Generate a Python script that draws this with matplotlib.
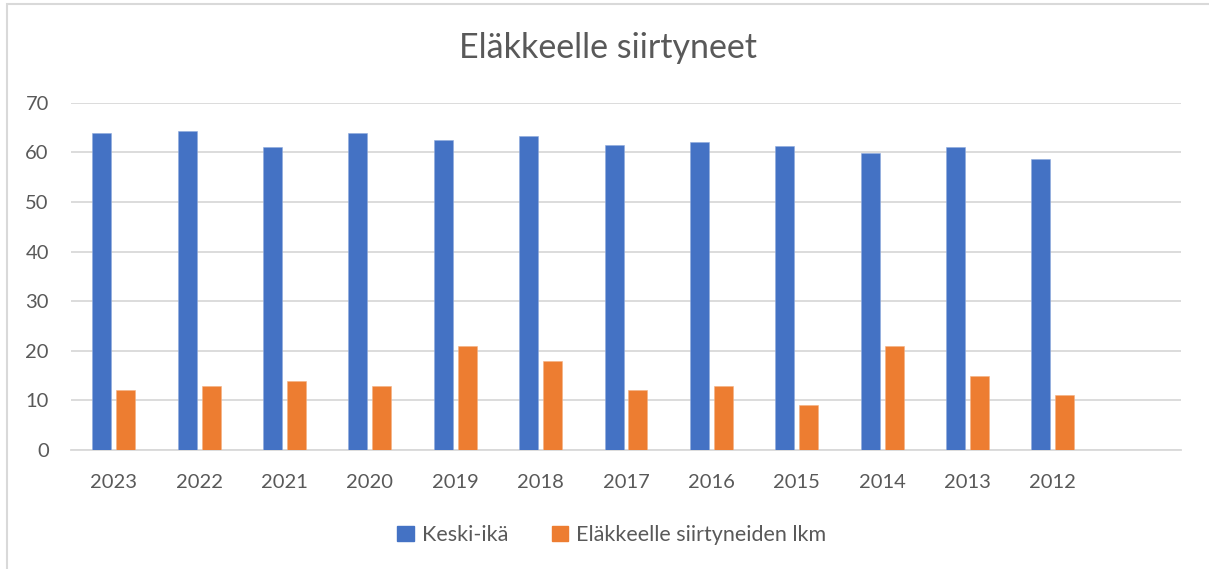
import matplotlib
matplotlib.use("Agg")
import matplotlib.pyplot as plt
from matplotlib.patches import Rectangle, Patch
import numpy as np

years = ["2023", "2022", "2021", "2020", "2019", "2018", "2017", "2016", "2015", "2014", "2013", "2012"]
keski_ika = [63.8, 64.3, 61.1, 63.8, 62.5, 63.2, 61.5, 62.1, 61.3, 59.9, 61.0, 58.6]
lkm = [12, 13, 14, 13, 21, 18, 12, 13, 9, 21, 15, 11]
yticks = [0, 10, 20, 30, 40, 50, 60, 70]

BLUE = "#4472C4"
ORANGE = "#ED7D31"
TXT = "#595959"
GRID = "#D9D9D9"
FONT = ["Lato", "DejaVu Sans"]

plt.rcParams["font.family"] = FONT

W, H = 1209, 569
fig = plt.figure(figsize=(W / 100, H / 100), dpi=100)

# chart border (left/top visible)
fig.patches.append(Rectangle((7 / W, -0.1), 1.2, (569 - 4) / H + 0.1, transform=fig.transFigure,
                             fill=False, edgecolor=GRID, linewidth=1.5))

ax = fig.add_axes([71 / W, 1 - 450 / H, (1181 - 71) / W, (450 - 102.7) / H])
n_slots = 13
x = np.arange(len(years))
bw = 0.2225
off = 0.1405
ax.bar(x - off, keski_ika, bw, color=BLUE, edgecolor="#8FAADC", linewidth=0.4, zorder=3)
ax.bar(x + off, lkm, bw, color=ORANGE, edgecolor="#F4B183", linewidth=0.4, zorder=3)

ax.set_xlim(-0.5, n_slots - 0.5)
ax.set_ylim(0, 70)
ax.set_yticks(yticks)
ax.set_yticklabels([str(v) for v in yticks])
ax.set_xticks(x)
ax.set_xticklabels(years)
ax.tick_params(axis="both", length=0, labelsize=14.5, colors=TXT)
ax.tick_params(axis="y", pad=16)
ax.tick_params(axis="x", pad=17)
ax.grid(axis="y", color=GRID, linewidth=1.3, zorder=0)
for s in ["top", "right", "left"]:
    ax.spines[s].set_visible(False)
ax.spines["bottom"].set_color(GRID)
ax.spines["bottom"].set_linewidth(1.3)

fig.text(608 / W, 1 - 48 / H, "Eläkkeelle siirtyneet", ha="center", va="center",
         fontsize=24.5, color=TXT)

handles = [Patch(color=BLUE, label="Keski-ikä"), Patch(color=ORANGE, label="Eläkkeelle siirtyneiden lkm")]
fig.legend(handles=handles, loc="center", bbox_to_anchor=(612 / W, 1 - 535 / H), ncol=2,
           frameon=False, fontsize=15.5, labelcolor=TXT, handlelength=0.75, handleheight=0.75,
           handletextpad=0.4, columnspacing=2.0)

fig.savefig("out.png", dpi=100)
